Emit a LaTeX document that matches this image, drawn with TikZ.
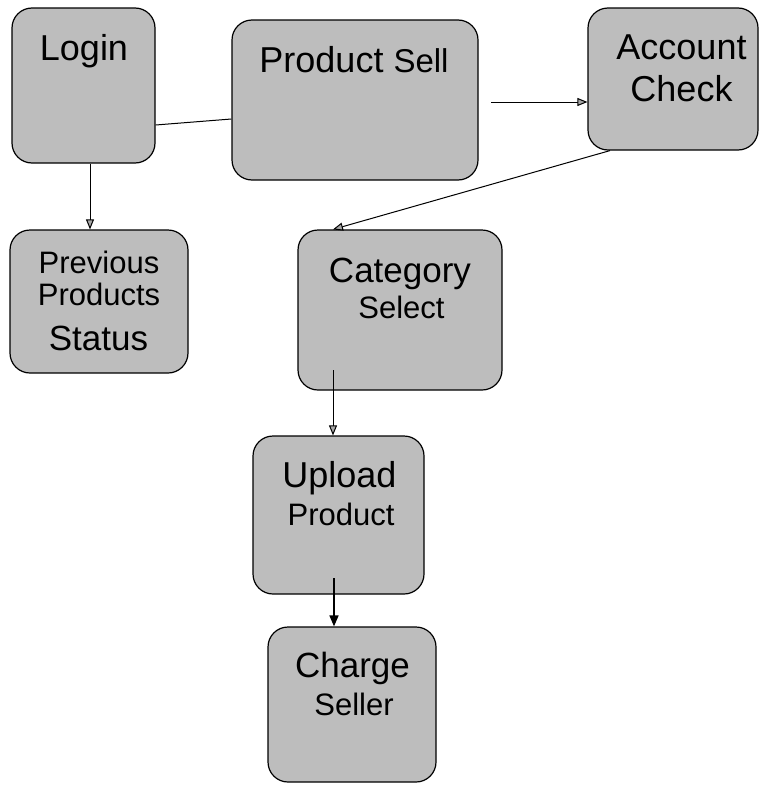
\documentclass[tikz,border=0pt]{standalone}
\usepackage{fontspec}
\setmainfont{Liberation Sans}
\usetikzlibrary{arrows.meta}
\definecolor{boxgray}{gray}{0.74}
\tikzset{
  box/.style={draw=black, line width=1.2pt, rounded corners=20pt, fill=boxgray, inner sep=0pt},
  txt/.style={anchor=base, inner sep=0pt, text=black},
  big/.style={font=\fontsize{36}{36}\selectfont},
  small/.style={font=\fontsize{31}{31}\selectfont},
  link/.style={draw=black, line width=1pt},
  hollowtip/.style={-{Triangle[length=10pt,width=8pt,fill=black!35]}},
  solidtip/.style={-{Triangle[length=11pt,width=9pt]}},
}
\begin{document}
\begin{tikzpicture}[x=1pt,y=-1pt]
  \useasboundingbox (0,0) rectangle (768,787);

  % boxes
  \node[box, minimum width=143pt, minimum height=155pt] (login)   at (83.5,85.5) {};
  \node[box, minimum width=246pt, minimum height=160pt] (sell)    at (355,100)   {};
  \node[box, minimum width=170pt, minimum height=142pt] (account) at (673,79)    {};
  \node[box, minimum width=178pt, minimum height=143pt] (prev)    at (99,301.5)  {};
  \node[box, minimum width=204pt, minimum height=160pt] (cat)     at (400,310)   {};
  \node[box, minimum width=171pt, minimum height=158pt] (upload)  at (338.5,515) {};
  \node[box, minimum width=168pt, minimum height=155pt] (charge)  at (352,704.5) {};

  % labels
  \node[txt, big] (loginT) at (84,60) {Login};
  \node[txt, big] (sellT) at (354,72) {Product {\fontsize{33}{33}\selectfont Sell}};
  \node[txt, big] (accT1) at (681.5,59) {Account};
  \node[txt, big] (accT2) at (681.5,101) {Check};
  \node[txt, small] (prevT1) at (99,273) {Previous};
  \node[txt, small] (prevT2) at (99,305) {Products};
  \node[txt, font=\fontsize{35}{35}\selectfont] (prevT3) at (98.5,350) {Status};
  \node[txt, font=\fontsize{35}{35}\selectfont] (catT1) at (400,282) {Category};
  \node[txt, small] (catT2) at (401.5,318) {Select};
  \node[txt, big] (upT1) at (339.5,487) {Upload};
  \node[txt, small] (upT2) at (341,525) {Product};
  \node[txt, font=\fontsize{35}{35}\selectfont] (chT1) at (352.5,677) {Charge};
  \node[txt, small] (chT2) at (354,715) {Seller};

  % free ends of connectors
  \coordinate (sellOut) at (491,102);
  \coordinate (catOut) at (333,370);
  \coordinate (upOut) at (334,578);

  % connectors
  \draw[link] ([yshift=-39.5pt]login.east) -- ([yshift=-19pt]sell.west);
  \draw[link, hollowtip] ([xshift=6.5pt]login.south) -- ([xshift=6.5pt]login.south |- prev.north);
  \draw[link, hollowtip] (sellOut) -- (sellOut -| account.west);
  \draw[link, hollowtip] ([xshift=-63pt]account.south) -- ([xshift=-67pt]cat.north);
  \draw[link, hollowtip] (catOut) -- (catOut |- upload.north);
  \draw[link, line width=1.6pt, solidtip] (upOut) -- (upOut |- charge.north);
\end{tikzpicture}
\end{document}
